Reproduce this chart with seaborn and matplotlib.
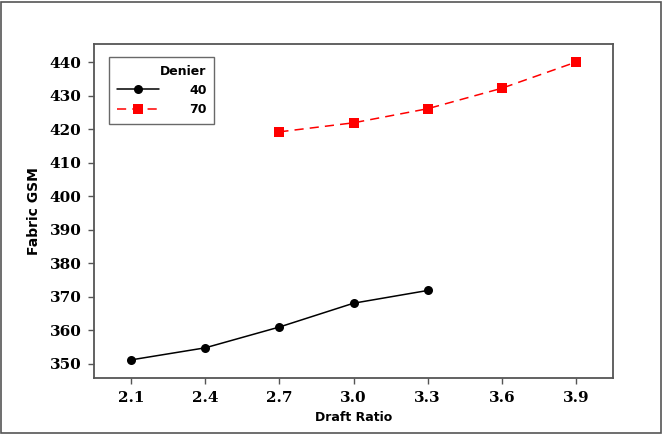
import matplotlib
matplotlib.use("Agg")
import matplotlib.pyplot as plt
import pandas as pd
import seaborn as sns

# data
draft_40 = [2.1, 2.4, 2.7, 3.0, 3.3]
gsm_40 = [351.2, 354.8, 361.0, 368.1, 371.9]
draft_70 = [2.7, 3.0, 3.3, 3.6, 3.9]
gsm_70 = [419.2, 421.9, 426.1, 432.2, 440.0]
xticks = [2.1, 2.4, 2.7, 3.0, 3.3, 3.6, 3.9]
yticks = [350, 360, 370, 380, 390, 400, 410, 420, 430, 440]

df = pd.DataFrame({
    "Draft Ratio": draft_40 + draft_70,
    "Fabric GSM": gsm_40 + gsm_70,
    "Denier": ["40"] * len(draft_40) + ["70"] * len(draft_70),
})

sns.set_style("white")
plt.rcParams.update({"text.color": "black", "axes.labelcolor": "black",
                     "xtick.color": "black", "ytick.color": "black"})
fig = plt.figure(figsize=(6.64, 4.36), dpi=100)
ax = fig.add_axes([94 / 664, 1 - 378 / 436, (613 - 94) / 664, (378 - 44) / 436])

# outer frame around the whole figure
fig.patches.append(plt.Rectangle((0.002, 0.006), 0.993, 0.99, transform=fig.transFigure,
                                 fill=False, edgecolor="#555555", linewidth=1.2))

sns.lineplot(ax=ax, data=df, x="Draft Ratio", y="Fabric GSM", hue="Denier", style="Denier",
             palette={"40": "black", "70": "#ff0000"},
             markers={"40": "o", "70": "s"},
             dashes={"40": "", "70": (6, 4)},
             markersize=6.5, markeredgewidth=0, linewidth=1.1)

ax.set_xlim(1.95, 4.05)
ax.set_ylim(345.8, 445.4)
ax.set_xticks(xticks)
ax.set_xticklabels([f"{v:.1f}" for v in xticks])
ax.set_yticks(yticks)
ax.set_yticklabels([str(v) for v in yticks])

for lab in ax.get_xticklabels() + ax.get_yticklabels():
    lab.set_fontfamily("DejaVu Serif")
    lab.set_fontweight("bold")
    lab.set_fontsize(11)
ax.tick_params(axis="both", which="major", direction="out", length=4, width=1,
               color="#555555", labelcolor="black", bottom=True, left=True, pad=5)

ax.set_xlabel("Draft Ratio", fontsize=9, fontweight="bold", family="DejaVu Sans")
ax.xaxis.set_label_coords(0.5, -0.1)
ax.set_ylabel("Fabric GSM", fontsize=10, fontweight="bold", family="DejaVu Sans")
ax.yaxis.set_label_coords(-0.102, 0.5)

for s in ax.spines.values():
    s.set_color("#555555")
    s.set_linewidth(1.3)

leg = ax.legend(title="Denier", loc="upper left", bbox_to_anchor=(0.029, 0.961),
                borderaxespad=0, frameon=True, fancybox=False, edgecolor="#444444",
                handlelength=3.4, handletextpad=2.4, borderpad=0.6, labelspacing=0.5,
                alignment="right", prop={"weight": "bold", "size": 9})
leg.get_title().set_fontweight("bold")
leg.get_title().set_fontsize(9)
leg.get_frame().set_linewidth(1.0)

fig.savefig("out.png", dpi=100)
